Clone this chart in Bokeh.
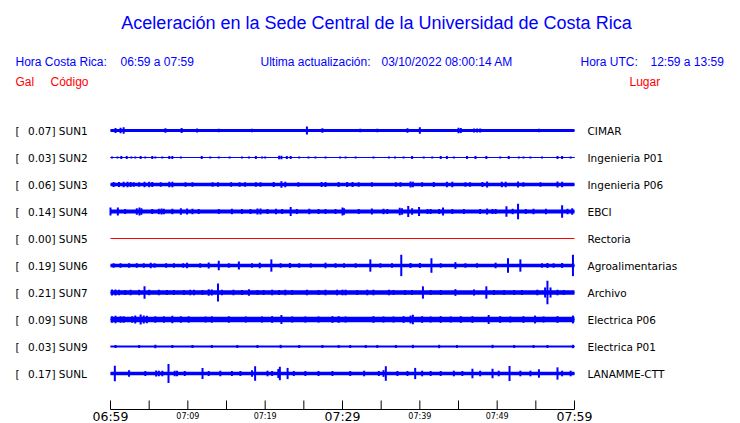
from bokeh.plotting import figure
from bokeh.models import Range1d
from bokeh.core.properties import value
from bokeh.embed import file_html
from bokeh.resources import INLINE

# ---------------- data ----------------
TITLE = "Aceleración en la Sede Central de la Universidad de Costa Rica"
HORA_CR_LABEL = "Hora Costa Rica:"
HORA_CR = "06:59 a 07:59"
ACT_LABEL = "Ultima actualización:"
ACTUALIZACION = "03/10/2022 08:00:14 AM"
UTC_LABEL = "Hora UTC:"
HORA_UTC = "12:59 a 13:59"

codes = ["SUN1", "SUN2", "SUN3", "SUN4", "SUN5", "SUN6", "SUN7", "SUN8", "SUN9", "SUNL"]
peak_gal = [0.07, 0.03, 0.06, 0.14, 0.00, 0.19, 0.21, 0.09, 0.03, 0.17]
places = ["CIMAR", "Ingenieria P01", "Ingenieria P06", "EBCI", "Rectoria",
          "Agroalimentarias", "Archivo", "Electrica P06", "Electrica P01", "LANAMME-CTT"]
# background (noise) level of each trace, Gal
noise_gal = [0.025, 0.008, 0.032, 0.036, 0.0, 0.03, 0.04, 0.047, 0.02, 0.032]

# bursts / peaks read from the records: minute after 06:59, amplitude (Gal)
sun1_min = [0.65, 1.3, 1.7, 7.1, 9.2, 11.2, 14.0, 18.3, 25.4, 27.4, 32.3, 34.5, 38.4, 40.0,
            45.0, 45.3, 47.0, 47.4, 47.8, 55.4]
sun1_gal = [0.045, 0.05, 0.06, 0.04, 0.045, 0.035, 0.03, 0.03, 0.07, 0.04, 0.03, 0.03, 0.04, 0.06,
            0.05, 0.045, 0.035, 0.035, 0.035, 0.03]

sun2_min = [0.2, 0.9, 1.4, 2.1, 2.7, 3.2, 3.9, 4.5, 5.4, 5.8, 6.7, 7.6, 8.0, 9.1, 11.8, 12.9,
            14.0, 15.4, 17.0, 17.9, 18.8, 19.6, 20.0, 21.8, 22.1, 22.8, 23.3, 24.4, 25.6, 26.5,
            27.8, 29.7, 30.4, 31.7, 34.0, 36.0, 36.8, 37.9, 39.0, 40.5, 41.6, 42.7, 43.5, 44.4,
            46.1, 47.2, 48.6, 50.4, 51.5, 52.8, 53.4, 54.3, 55.8, 57.8, 58.4, 59.5]
sun2_gal = [0.02, 0.02, 0.025, 0.025, 0.02, 0.02, 0.025, 0.02, 0.025, 0.02, 0.02, 0.025, 0.025,
            0.02, 0.025, 0.02, 0.02, 0.02, 0.02, 0.02, 0.025, 0.02, 0.02, 0.03, 0.03, 0.025,
            0.025, 0.02, 0.02, 0.02, 0.02, 0.02, 0.02, 0.02, 0.02, 0.02, 0.02, 0.02, 0.025,
            0.02, 0.02, 0.025, 0.025, 0.02, 0.025, 0.025, 0.025, 0.02, 0.025, 0.02, 0.02, 0.02,
            0.02, 0.025, 0.025, 0.02]

sun3_min = [0.4, 1.1, 1.7, 2.2, 2.6, 3.0, 3.7, 4.4, 5.0, 5.4, 6.5, 7.6, 8.0, 9.7, 10.6, 13.2,
            13.9, 15.6, 16.7, 17.4, 18.8, 19.4, 21.1, 22.1, 22.6, 24.3, 27.3, 27.8, 29.5, 30.6,
            31.3, 32.1, 33.8, 36.9, 37.5, 38.8, 39.1, 40.3, 41.8, 43.5, 44.2, 45.9, 46.5, 48.1,
            48.7, 50.6, 51.1, 52.7, 53.4, 55.6, 57.8, 58.4]
sun3_gal = [0.045, 0.045, 0.05, 0.05, 0.045, 0.04, 0.04, 0.05, 0.05, 0.045, 0.04, 0.05, 0.05,
            0.04, 0.04, 0.04, 0.04, 0.04, 0.04, 0.04, 0.04, 0.04, 0.045, 0.06, 0.05, 0.04, 0.045,
            0.045, 0.045, 0.045, 0.045, 0.04, 0.04, 0.04, 0.04, 0.055, 0.05, 0.04, 0.045, 0.05,
            0.05, 0.04, 0.04, 0.045, 0.055, 0.05, 0.05, 0.055, 0.04, 0.04, 0.055, 0.05]

sun4_min = [0.0, 0.95, 1.9, 3.4, 3.75, 4.0, 5.4, 6.25, 6.6, 6.9, 8.0, 9.1, 9.9, 10.6, 11.4, 14.0,
            15.7, 17.0, 18.1, 19.0, 19.4, 20.3, 21.4, 22.2, 23.3, 24.1, 25.7, 26.9, 27.8, 29.1,
            30.0, 30.2, 32.1, 33.8, 35.3, 35.8, 37.4, 37.7, 38.5, 39.0, 39.9, 41.0, 41.4, 42.5,
            43.0, 44.2, 45.7, 47.8, 48.7, 49.4, 49.8, 51.2, 52.0, 52.7, 53.7, 54.7, 56.3, 58.4,
            59.1, 59.7]
sun4_gal = [0.07, 0.07, 0.045, 0.06, 0.07, 0.06, 0.045, 0.05, 0.055, 0.05, 0.05, 0.06, 0.055,
            0.05, 0.045, 0.045, 0.05, 0.045, 0.045, 0.055, 0.055, 0.045, 0.05, 0.045, 0.08, 0.045,
            0.05, 0.045, 0.045, 0.045, 0.07, 0.06, 0.045, 0.055, 0.05, 0.045, 0.065, 0.06, 0.1,
            0.06, 0.08, 0.045, 0.045, 0.045, 0.07, 0.045, 0.045, 0.045, 0.055, 0.045, 0.045,
            0.095, 0.05, 0.14, 0.045, 0.05, 0.05, 0.11, 0.05, 0.06]

sun5_min = []
sun5_gal = []

sun6_min = [0.4, 1.3, 2.4, 3.4, 4.3, 5.2, 5.7, 7.2, 8.2, 9.4, 9.9, 11.6, 12.7, 14.0, 15.3, 16.6,
            18.3, 19.3, 20.8, 22.0, 23.2, 24.4, 25.9, 27.8, 29.1, 30.2, 31.7, 33.6, 34.9, 36.4,
            37.6, 38.8, 40.0, 41.5, 42.7, 44.6, 45.9, 47.4, 49.8, 51.4, 53.0, 55.8, 56.5, 57.3,
            58.4, 59.8]
sun6_gal = [0.04, 0.04, 0.04, 0.04, 0.04, 0.05, 0.04, 0.04, 0.04, 0.04, 0.05, 0.04, 0.055, 0.085,
            0.04, 0.07, 0.04, 0.05, 0.11, 0.04, 0.045, 0.04, 0.04, 0.05, 0.04, 0.04, 0.04, 0.11,
            0.04, 0.04, 0.19, 0.045, 0.045, 0.13, 0.04, 0.06, 0.04, 0.04, 0.05, 0.13, 0.11, 0.04,
            0.045, 0.04, 0.045, 0.19]

sun7_min = [0.2, 0.65, 1.1, 1.9, 2.6, 3.7, 4.4, 5.0, 6.25, 7.3, 8.2, 9.5, 10.3, 10.8, 11.9, 12.7,
            13.1, 13.9, 14.4, 15.9, 17.0, 17.9, 19.0, 19.8, 20.9, 21.8, 22.6, 23.5, 25.4, 26.9,
            27.8, 29.3, 30.0, 30.4, 31.9, 33.2, 34.0, 36.0, 36.6, 38.1, 39.0, 40.4, 41.4, 42.7,
            44.6, 47.0, 48.6, 49.6, 50.9, 52.2, 53.2, 55.2, 56.2, 56.5, 56.9, 57.8, 58.6]
sun7_gal = [0.055, 0.055, 0.05, 0.045, 0.05, 0.05, 0.11, 0.05, 0.05, 0.045, 0.045, 0.045, 0.05,
            0.05, 0.045, 0.06, 0.055, 0.16, 0.05, 0.05, 0.045, 0.06, 0.045, 0.045, 0.05, 0.045,
            0.05, 0.045, 0.05, 0.045, 0.05, 0.05, 0.05, 0.05, 0.045, 0.05, 0.05, 0.05, 0.045,
            0.045, 0.045, 0.11, 0.045, 0.045, 0.06, 0.055, 0.11, 0.045, 0.045, 0.045, 0.045,
            0.05, 0.09, 0.21, 0.09, 0.05, 0.045]

sun8_min = [0.2, 0.65, 1.3, 1.7, 2.8, 3.2, 3.9, 4.3, 4.7, 5.8, 6.9, 8.0, 9.1, 10.1, 12.3, 13.1,
            15.3, 17.5, 19.6, 20.9, 22.1, 23.5, 25.2, 26.9, 28.7, 29.5, 30.4, 34.0, 35.3, 36.6,
            37.9, 38.8, 39.1, 40.3, 41.4, 42.7, 44.0, 45.3, 46.8, 48.9, 50.4, 51.7, 53.4, 54.9,
            56.0, 57.8, 59.8]
sun8_gal = [0.06, 0.065, 0.06, 0.06, 0.06, 0.07, 0.09, 0.07, 0.065, 0.06, 0.06, 0.065, 0.06,
            0.06, 0.055, 0.06, 0.06, 0.055, 0.055, 0.06, 0.08, 0.055, 0.055, 0.055, 0.06, 0.06,
            0.055, 0.06, 0.055, 0.055, 0.06, 0.07, 0.085, 0.06, 0.055, 0.06, 0.055, 0.06, 0.06,
            0.08, 0.06, 0.055, 0.06, 0.07, 0.055, 0.06, 0.07]

sun9_min = [0.65, 3.7, 5.8, 8.0, 10.6, 13.1, 16.4, 19.0, 22.0, 24.4, 27.4, 29.5, 31.0, 33.0,
            34.5, 36.9, 39.1, 42.5, 44.8, 49.4, 52.2, 54.7, 56.5, 59.8]
sun9_gal = [0.027, 0.027, 0.03, 0.027, 0.027, 0.027, 0.027, 0.027, 0.03, 0.027, 0.027, 0.027,
            0.027, 0.027, 0.027, 0.027, 0.03, 0.03, 0.027, 0.03, 0.027, 0.027, 0.027, 0.03]

sunl_min = [0.56, 2.4, 4.5, 5.9, 6.25, 6.7, 7.5, 8.3, 8.6, 9.6, 11.9, 12.7, 14.2, 15.7, 16.8,
            18.3, 18.7, 20.3, 20.9, 21.7, 21.9, 22.9, 23.7, 25.2, 26.9, 28.7, 31.0, 32.8, 34.7,
            35.3, 35.6, 37.1, 38.4, 39.4, 40.3, 41.4, 42.7, 44.4, 45.5, 46.8, 47.8, 49.4, 50.2,
            51.6, 53.0, 54.3, 55.4, 57.8, 58.4, 59.5]
sunl_gal = [0.14, 0.06, 0.045, 0.055, 0.05, 0.05, 0.17, 0.05, 0.05, 0.045, 0.1, 0.045, 0.05,
            0.045, 0.045, 0.06, 0.13, 0.05, 0.045, 0.08, 0.12, 0.1, 0.045, 0.045, 0.045, 0.045,
            0.045, 0.05, 0.045, 0.06, 0.13, 0.045, 0.045, 0.1, 0.05, 0.045, 0.045, 0.05, 0.045,
            0.085, 0.05, 0.085, 0.05, 0.135, 0.05, 0.05, 0.075, 0.11, 0.05, 0.05]

events_min = [sun1_min, sun2_min, sun3_min, sun4_min, sun5_min,
              sun6_min, sun7_min, sun8_min, sun9_min, sunl_min]
events_gal = [sun1_gal, sun2_gal, sun3_gal, sun4_gal, sun5_gal,
              sun6_gal, sun7_gal, sun8_gal, sun9_gal, sunl_gal]

tick_minutes = [0, 5, 10, 15, 20, 25, 30, 35, 40, 45, 50, 55, 60]
major_label_min = [0, 30, 60]
major_labels = ["06:59", "07:29", "07:59"]
minor_label_min = [10, 20, 40, 50]
minor_labels = ["07:09", "07:19", "07:39", "07:49"]
SPAN_MIN = 60

# ---------------- layout / style ----------------
W, H = 740, 423
PX_PER_MIN = 464 / 60.0       # horizontal scale
PX_PER_GAL = 56.0             # vertical scale
ROW_PX = 27.0
ROW_GAP = ROW_PX / PX_PER_GAL
BLUE = "#0000ff"
RED = "#ff0000"
FONT_H = value("Liberation Sans")
FONT_T = value("DejaVu Sans")


def px2x(px):   # picture pixel -> minutes
    return (px - 110) / PX_PER_MIN


def px2y(py):   # picture pixel -> Gal axis
    return (130 - py) / PX_PER_GAL


p = figure(width=W, height=H, output_backend="svg", toolbar_location=None,
           x_range=Range1d(px2x(0), px2x(W)), y_range=Range1d(px2y(H), px2y(0)),
           x_axis_type=None, y_axis_type=None, min_border=0)
p.outline_line_color = None
p.grid.visible = False
p.background_fill_color = "white"
p.border_fill_color = "white"

# traces
row_y = [-i * ROW_GAP for i in range(len(codes))]
colors = [RED if g == 0 else BLUE for g in peak_gal]
p.segment(x0=[0] * len(codes), x1=[SPAN_MIN] * len(codes), y0=row_y, y1=row_y,
          line_color=colors, line_width=1)
p.hbar(y=row_y, height=[2 * n for n in noise_gal], left=0, right=SPAN_MIN,
       fill_color=colors, line_color=None)
sx, sy0, sy1, sc = [], [], [], []
for i in range(len(codes)):
    for t, a in zip(events_min[i], events_gal[i]):
        sx.append(t)
        sy0.append(row_y[i] - a)
        sy1.append(row_y[i] + a)
        sc.append(colors[i])
p.segment(x0=sx, x1=sx, y0=sy0, y1=sy1, line_color=sc, line_width=2)

# trace labels
p.text(x=[px2x(15)] * len(codes), y=row_y, text=["["] * len(codes),
       text_font=FONT_T, text_font_size="10.5px", text_color="#000000",
       text_baseline="middle", text_align="left")
p.text(x=[px2x(27.5)] * len(codes), y=row_y,
       text=["%.2f] %s" % (g, c) for g, c in zip(peak_gal, codes)],
       text_font=FONT_T, text_font_size="10.5px", text_color="#000000",
       text_baseline="middle", text_align="left")
p.text(x=[px2x(587)] * len(codes), y=row_y, text=places,
       text_font=FONT_T, text_font_size="10.5px", text_color="#000000",
       text_baseline="middle", text_align="left")

# header
p.text(x=[px2x(376)], y=[px2y(22)], text=[TITLE], text_font=FONT_H,
       text_font_size="18px", text_color=BLUE, text_align="center", text_baseline="middle")
p.text(x=[px2x(15), px2x(120), px2x(260), px2x(381), px2x(580), px2x(650)],
       y=[px2y(61)] * 6,
       text=[HORA_CR_LABEL, HORA_CR, ACT_LABEL, ACTUALIZACION, UTC_LABEL, HORA_UTC],
       text_font=FONT_H, text_font_size="12px", text_color=BLUE,
       text_align="left", text_baseline="middle")
p.text(x=[px2x(15), px2x(50), px2x(629)], y=[px2y(81)] * 3,
       text=["Gal", "Código", "Lugar"], text_font=FONT_H, text_font_size="12px",
       text_color=RED, text_align="left", text_baseline="middle")

# time axis
axis_y = px2y(409)
p.segment(x0=[0], x1=[SPAN_MIN], y0=[axis_y], y1=[axis_y], line_color="black", line_width=1)
p.segment(x0=tick_minutes, x1=tick_minutes, y0=[axis_y] * len(tick_minutes),
          y1=[px2y(400)] * len(tick_minutes), line_color="black", line_width=1)
p.text(x=major_label_min, y=[px2y(416)] * 3, text=major_labels, text_font=FONT_T,
       text_font_size="12.5px", text_color="black", text_align="center", text_baseline="middle")
p.text(x=minor_label_min, y=[px2y(415.5)] * 4, text=minor_labels, text_font=FONT_T,
       text_font_size="8px", text_color="black", text_align="center", text_baseline="middle")

open("out.html", "w").write(file_html(p, INLINE))
